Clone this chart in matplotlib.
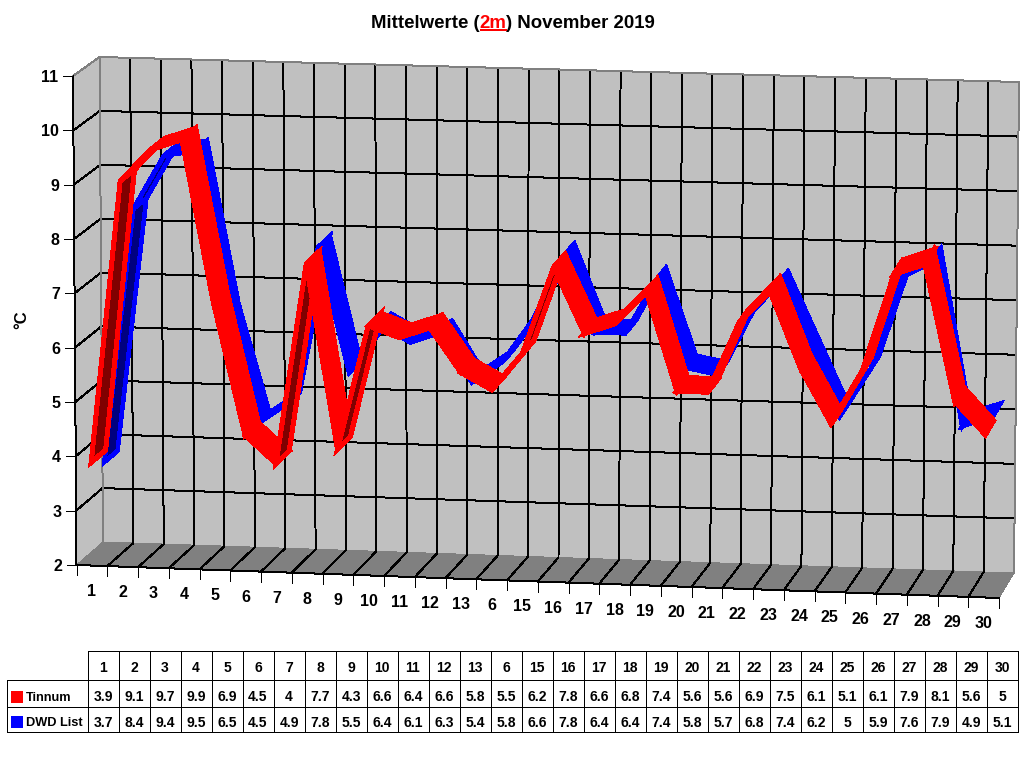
import matplotlib
matplotlib.use("Agg")
import matplotlib.pyplot as plt

plt.rcParams['font.family'] = ['Liberation Sans', 'DejaVu Sans']

categories = ["1","2","3","4","5","6","7","8","9","10","11","12","13","6","15",
              "16","17","18","19","20","21","22","23","24","25","26","27","28","29","30"]
tinnum = [3.9,9.1,9.7,9.9,6.9,4.5,4,7.7,4.3,6.6,6.4,6.6,5.8,5.5,6.2,
          7.8,6.6,6.8,7.4,5.6,5.6,6.9,7.5,6.1,5.1,6.1,7.9,8.1,5.6,5]
dwd = [3.7,8.4,9.4,9.5,6.5,4.5,4.9,7.8,5.5,6.4,6.1,6.3,5.4,5.8,6.6,
       7.8,6.4,6.4,7.4,5.8,5.7,6.8,7.4,6.2,5,5.9,7.6,7.9,4.9,5.1]
value_ticks = [2,3,4,5,6,7,8,9,10,11]
series_names = ["Tinnum", "DWD List"]

# pixel positions of the 3D box corners: (day edge, value, depth)
F00, F01, F10, F11 = (76.5,565), (73,76), (999,598), (1004,110)
B00, B01, B10, B11 = (103,542), (99.5,57), (1014,573), (1019,82)
VMIN, VMAX = value_ticks[0], value_ticks[-1]
N = len(categories)

def proj(u, v, d):
    a, b = u/N, (v-VMIN)/(VMAX-VMIN)
    out = []
    for i in (0, 1):
        f = (1-a)*((1-b)*F00[i]+b*F01[i]) + a*((1-b)*F10[i]+b*F11[i])
        k = (1-a)*((1-b)*B00[i]+b*B01[i]) + a*((1-b)*B10[i]+b*B11[i])
        out.append((1-d)*f + d*k)
    return out

fig = plt.figure(figsize=(10.24,7.68), dpi=100, facecolor='white')
ax = fig.add_axes([0,0,1,1])
ax.set_xlim(0,1024); ax.set_ylim(768,0); ax.axis('off')

PX = 0.72
def line(p, q, color='black', lw=1.0, z=2):
    ax.plot([p[0],q[0]],[p[1],q[1]],color=color,lw=lw*PX,antialiased=False,
            solid_capstyle='butt',zorder=z)
def poly(pts, color, z=1, edge=None, lw=0):
    ax.fill([p[0] for p in pts],[p[1] for p in pts],facecolor=color,
            edgecolor=edge if edge else 'none',linewidth=lw*PX,antialiased=False,
            joinstyle='miter',zorder=z)

# walls and floor
poly([proj(0,VMIN,1),proj(N,VMIN,1),proj(N,VMAX,1),proj(0,VMAX,1)],'#C0C0C0')
poly([proj(0,VMIN,0),proj(0,VMIN,1),proj(0,VMAX,1),proj(0,VMAX,0)],'#C0C0C0')
poly([proj(0,VMIN,0),proj(N,VMIN,0),proj(N,VMIN,1),proj(0,VMIN,1)],'#808080')

for v in value_ticks[1:-1]:
    line(proj(0,v,1),proj(N,v,1))
    line(proj(0,v,0),proj(0,v,1))
for u in range(1,N):
    line(proj(u,VMIN,1),proj(u,VMAX,1))
    line(proj(u,VMIN,0),proj(u,VMIN,1))
grey = '#808080'
line(proj(0,VMAX,0),proj(0,VMAX,1),grey)
line(proj(0,VMAX,1),proj(N,VMAX,1),grey)
line(proj(0,VMIN,1),proj(0,VMAX,1),grey)
line(proj(N,VMIN,1),proj(N,VMAX,1),grey)

# axes
line(proj(0,VMIN,0),proj(0,VMAX,0))
line(proj(0,VMIN,0),proj(N,VMIN,0))
for v in value_ticks:
    p = proj(0,v,0)
    line((p[0]-10,p[1]),p)
    ax.text(p[0]-14.5,p[1],str(v),ha='right',va='center_baseline',fontsize=11.5,fontweight='bold')
for u in range(N+1):
    p = proj(u,VMIN,0)
    line(p,(p[0],p[1]+10))
for i,c in enumerate(categories):
    p = proj(i+.5,VMIN,0)
    ax.text(p[0],p[1]+24.5,c,ha='center',va='center_baseline',fontsize=11.5,fontweight='bold')
ax.text(22,320,'°C',rotation=90,ha='center',va='center',fontsize=12,fontweight='bold')

# ribbons
def ribbon(vals, d0, d1, bright, dark, z, lw):
    for i in range(len(vals)-1):
        pts = [proj(i+.5,vals[i],d0),proj(i+1.5,vals[i+1],d0),
               proj(i+1.5,vals[i+1],d1),proj(i+.5,vals[i],d1)]
        area = sum(pts[k][0]*pts[(k+1)%4][1]-pts[(k+1)%4][0]*pts[k][1] for k in range(4))
        poly(pts, dark if area > 0 else bright, z=z+i*0.001, edge=bright, lw=lw)
ribbon(dwd, 0.5, 1.0, '#0000FF', '#000080', 3, 3.5)
ribbon(tinnum, 0.0, 0.55, '#FF0000', '#800000', 4, 4)

# title
fig.canvas.draw()
r = fig.canvas.get_renderer()
x = 371
ts = 13.4
for txt,col in [("Mittelwerte (","black"),("2m","red"),(") November 2019","black")]:
    t = ax.text(x,21,txt,ha='left',va='center_baseline',fontsize=ts,fontweight='bold',color=col)
    w = t.get_window_extent(r).width
    if col == 'red':
        line((x,30),(x+w,30),'red',lw=2,z=5)
    x += w

# table
col_x0, col_w = 87.5, 31
rows = [651,680,707,732]
left = 7
right = col_x0+col_w*N
line((col_x0,rows[0]),(right,rows[0]))
for y in rows[1:]:
    line((left,y),(right,y))
line((left,rows[1]),(left,rows[3]))
for i in range(N+1):
    line((col_x0+i*col_w,rows[0]),(col_x0+i*col_w,rows[3]))
for i in range(N):
    cx = col_x0+(i+.5)*col_w
    ax.text(cx,666,categories[i],ha='center',va='center_baseline',fontsize=10,fontweight='bold')
    ax.text(cx,695.5,f"{tinnum[i]:g}",ha='center',va='center_baseline',fontsize=10,fontweight='bold')
    ax.text(cx,721.5,f"{dwd[i]:g}",ha='center',va='center_baseline',fontsize=10,fontweight='bold')
for y,name,col in [(696.5,series_names[0],'#FF0000'),(722,series_names[1],'#0000FF')]:
    poly([(11,y-6),(23,y-6),(23,y+6),(11,y+6)],col,z=3)
    ax.text(26,y,name,ha='left',va='center_baseline',fontsize=9.2,fontweight='bold')

fig.savefig('out.png',dpi=100,facecolor='white')
